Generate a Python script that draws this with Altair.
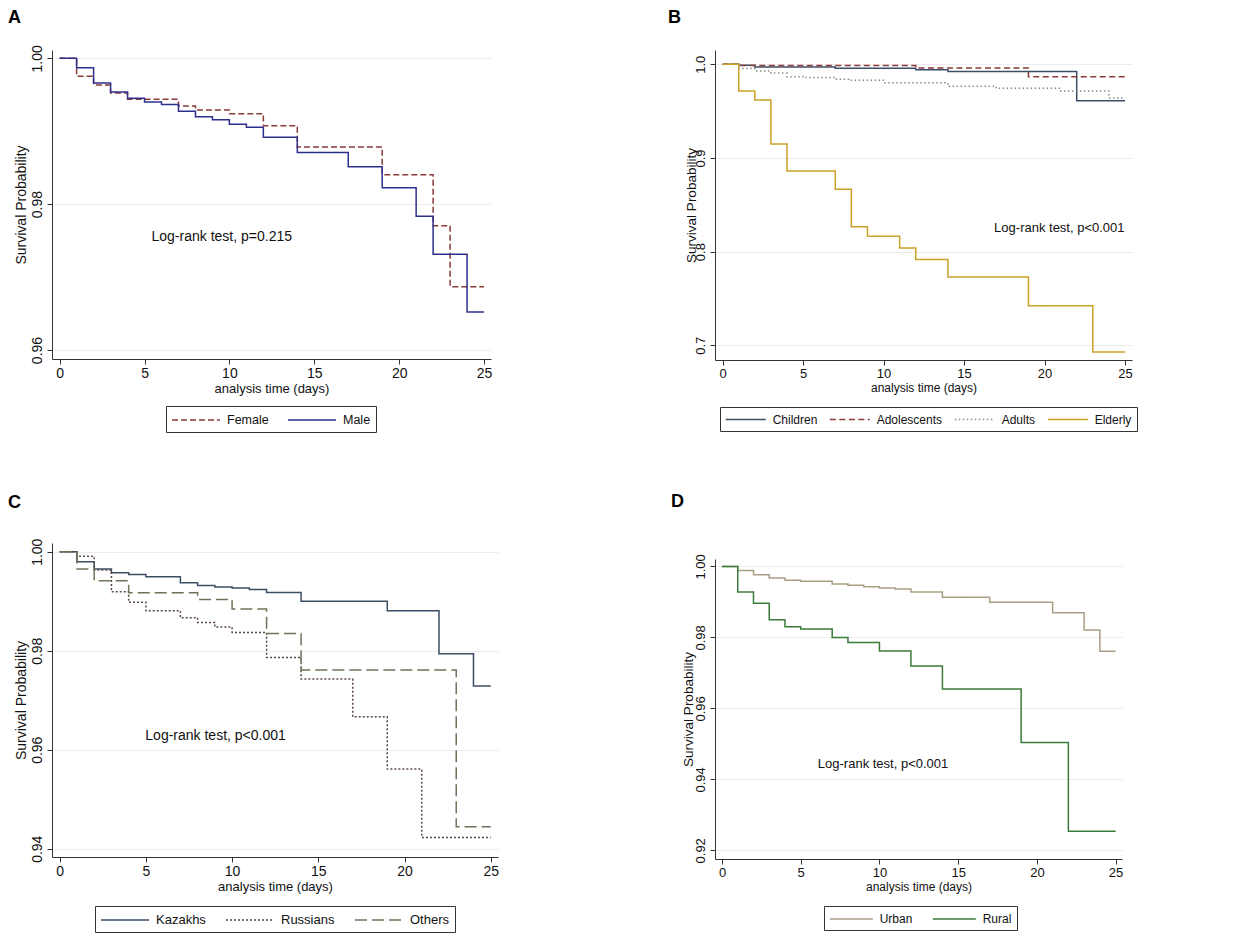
import altair as alt
import pandas as pd

FONT = "Liberation Sans, Arial, sans-serif"
X_END = 25
X_TICKS = [0, 5, 10, 15, 20, 25]

# ---------------- Panel A : sex ----------------
a_groups = ["Female", "Male"]
a_female_t = [0, 1, 2, 3, 4, 7, 8, 10, 12, 14, 19, 22, 23]
a_female_s = [1.0, 0.99753, 0.99634, 0.99525, 0.99437, 0.99346, 0.99291, 0.99241,
              0.99077, 0.98784, 0.98405, 0.97705, 0.96869]
a_male_t = [0, 1, 2, 3, 4, 5, 6, 7, 8, 9, 10, 11, 12, 14, 17, 19, 21, 22, 24]
a_male_s = [1.0, 0.99872, 0.99662, 0.99538, 0.99451, 0.99401, 0.99365, 0.99273,
            0.99200, 0.99159, 0.99095, 0.99054, 0.98917, 0.98707, 0.98514, 0.98226,
            0.97833, 0.97312, 0.96521]
a_yticks = [0.96, 0.98, 1.00]
a_note = "Log-rank test, p=0.215"
a_note_pos = (9.55, 0.9755)

# ---------------- Panel B : age group ----------------
b_groups = ["Children", "Adolescents", "Adults", "Elderly"]
b_children_t = [0, 1, 2, 7, 12, 14, 22]
b_children_s = [1.0, 0.9989, 0.9972, 0.9957, 0.9943, 0.9922, 0.9612]
b_adolescents_t = [0, 1, 12, 19]
b_adolescents_s = [1.0, 0.9986, 0.9961, 0.9868]
b_adults_t = [0, 1, 2, 3, 4, 5, 7, 8, 10, 14, 17, 21, 24]
b_adults_s = [1.0, 0.9954, 0.9929, 0.9907, 0.9868, 0.9858, 0.9840, 0.9829, 0.9804,
              0.9765, 0.9744, 0.9715, 0.9641]
b_elderly_t = [0, 1, 2, 3, 4, 7, 8, 9, 11, 12, 14, 19, 23]
b_elderly_s = [1.0, 0.9715, 0.9619, 0.9149, 0.8861, 0.8665, 0.8267, 0.8164, 0.8039,
               0.7915, 0.7730, 0.7423, 0.6929]
b_yticks = [0.7, 0.8, 0.9, 1.0]
b_note = "Log-rank test, p<0.001"
b_note_pos = (20.92, 0.8251)

# ---------------- Panel C : ethnicity ----------------
c_groups = ["Kazakhs", "Russians", "Others"]
c_kazakhs_t = [0, 1, 2, 3, 4, 5, 7, 8, 9, 10, 11, 12, 14, 19, 22, 24]
c_kazakhs_s = [1.0, 0.99798, 0.99650, 0.99576, 0.99542, 0.99495, 0.99374, 0.99320,
               0.99286, 0.99266, 0.99239, 0.99178, 0.98997, 0.98808, 0.97940, 0.97286]
c_russians_t = [0, 1, 2, 3, 4, 5, 7, 8, 9, 10, 12, 14, 17, 19, 21]
c_russians_s = [1.0, 0.99906, 0.99630, 0.99192, 0.98977, 0.98808, 0.98667, 0.98572,
                0.98478, 0.98370, 0.97865, 0.97428, 0.96667, 0.95610, 0.94229]
c_others_t = [0, 1, 2, 4, 8, 10, 12, 14, 23]
c_others_s = [1.0, 0.99650, 0.99414, 0.99172, 0.99037, 0.98842, 0.98350, 0.97609, 0.94444]
c_yticks = [0.94, 0.96, 0.98, 1.00]
c_note = "Log-rank test, p<0.001"
c_note_pos = (9.04, 0.96287)

# ---------------- Panel D : residence ----------------
d_groups = ["Urban", "Rural"]
d_urban_t = [0, 1, 2, 3, 4, 5, 7, 8, 9, 10, 11, 12, 14, 17, 21, 23, 24]
d_urban_s = [1.0, 0.99887, 0.99766, 0.99672, 0.99606, 0.99578, 0.99503, 0.99465,
             0.99428, 0.99390, 0.99362, 0.99278, 0.99128, 0.98987, 0.98696, 0.98209, 0.97608]
d_rural_t = [0, 1, 2, 3, 4, 5, 7, 8, 10, 12, 14, 19, 22]
d_rural_s = [1.0, 0.99278, 0.98959, 0.98499, 0.98302, 0.98237, 0.97993, 0.97852,
             0.97617, 0.97195, 0.96548, 0.95038, 0.92535]
d_yticks = [0.92, 0.94, 0.96, 0.98, 1.00]
d_note = "Log-rank test, p<0.001"
d_note_pos = (10.23, 0.94428)

LEGEND_LINE = "M-3,0H3"


def build_df(groups, times, survs):
    rows = []
    for name, t, s in zip(groups, times, survs):
        for ti, si in zip(list(t) + [X_END], list(s) + [s[-1]]):
            rows.append({"time": ti, "surv": si, "group": name})
    return pd.DataFrame(rows)


def panel(letter, groups, times, survs, colors, dashes, xdom, ydom, yticks, yfmt,
          w, h, note, note_pos, legend_xy, title_dx, title_offset, ytitle_pad,
          col_pad, sym_len, leg_font, note_font, tick_font, xt_font, yt_font):
    df = build_df(groups, times, survs)
    s = sym_len / 3.0
    leg = alt.Legend(
        title=None, orient="none", legendX=legend_xy[0], legendY=legend_xy[1],
        direction="horizontal", columns=len(groups), gridAlign="none",
        symbolType=LEGEND_LINE, symbolSize=s * s, symbolOffset=s,
        symbolStrokeWidth=1.5, labelFontSize=leg_font, labelFont=FONT,
        labelColor="#111", strokeColor="#333", padding=5,
        columnPadding=col_pad, labelOffset=s + 6, rowPadding=0,
    )
    x = alt.X("time:Q",
              scale=alt.Scale(domain=xdom, nice=False, zero=False),
              axis=alt.Axis(values=X_TICKS, title="analysis time (days)",
                            grid=False, format="d", titleFontSize=xt_font,
                            labelFontSize=tick_font, titlePadding=2))
    y = alt.Y("surv:Q",
              scale=alt.Scale(domain=ydom, nice=False, zero=False),
              axis=alt.Axis(values=yticks, format=yfmt,
                            title="Survival Probability", grid=True,
                            gridColor="#ececec", labelAngle=270,
                            labelAlign="center", labelBaseline="bottom",
                            titleFontSize=yt_font, labelFontSize=tick_font,
                            titlePadding=ytitle_pad, labelPadding=3))
    lines = alt.Chart(df).mark_line(interpolate="step-after", strokeWidth=1.5).encode(
        x=x, y=y,
        color=alt.Color("group:N", scale=alt.Scale(domain=groups, range=colors),
                        legend=leg),
        strokeDash=alt.StrokeDash("group:N",
                                  scale=alt.Scale(domain=groups, range=dashes),
                                  legend=leg),
        detail="group:N",
    )
    note_df = pd.DataFrame([{"time": note_pos[0], "surv": note_pos[1], "label": note}])
    text = alt.Chart(note_df).mark_text(
        fontSize=note_font, font=FONT, color="#111", align="center", baseline="middle"
    ).encode(x="time:Q", y="surv:Q", text="label:N")
    return alt.layer(lines, text).properties(
        width=w, height=h,
        title=alt.TitleParams(letter, anchor="start", frame="group", dx=title_dx,
                              offset=title_offset, fontSize=18, fontWeight="bold",
                              font=FONT, color="#000", baseline="alphabetic"),
    )


SOLID = [1, 0]
A = panel("A", a_groups, [a_female_t, a_male_t], [a_female_s, a_male_s],
          ["#8c3a3a", "#2d2f8c"], [[6, 3], SOLID],
          [-0.45, 25.41], [0.95877, 1.00114], a_yticks, ".2f",
          439, 309, a_note, a_note_pos, (114, 356), -44, 4, 2,
          16, 48, 12.5, 14, 14, 13, 14)

B = panel("B", b_groups,
          [b_children_t, b_adolescents_t, b_adults_t, b_elderly_t],
          [b_children_s, b_adolescents_s, b_adults_s, b_elderly_s],
          ["#3b4e68", "#8c3a3a", "#8a8a8a", "#c9a227"],
          [SOLID, [6, 3.5], [1.5, 2.5], SOLID],
          [-0.473, 25.435], [0.68432, 1.01525], b_yticks, ".1f",
          417, 310, b_note, b_note_pos, (5, 357), -47, 9, -4,
          8, 40, 12, 13, 13, 12, 13.5)

C = panel("C", c_groups, [c_kazakhs_t, c_russians_t, c_others_t],
          [c_kazakhs_s, c_russians_s, c_others_s],
          ["#3a4d63", "#5c4846", "#6f7358"],
          [SOLID, [2, 2], [12, 5]],
          [-0.447, 25.423], [0.93833, 1.00176], c_yticks, ".2f",
          446, 314, c_note, c_note_pos, (43, 363), -44, 12, 2,
          17, 48, 13, 14, 14, 13, 14)

D = panel("D", d_groups, [d_urban_t, d_rural_t], [d_urban_s, d_rural_s],
          ["#a99e84", "#3a7a3a"], [SOLID, SOLID],
          [-0.444, 25.406], [0.91755, 1.00208], d_yticks, ".2f",
          407, 300, d_note, d_note_pos, (109, 347), -44, 29, -1,
          16, 43, 12, 13, 13, 12, 13.5)


def indep(c):
    return c.resolve_scale(color="independent", strokeDash="independent").resolve_legend(
        color="independent", strokeDash="independent")


col1 = indep(alt.vconcat(A, C, spacing=61))
col2 = indep(alt.vconcat(B, D, spacing=60))

chart = indep(alt.hconcat(col1, col2, spacing=169)).properties(
    padding={"left": 0, "top": 0, "right": 5, "bottom": 0},
    background="white",
).configure_view(stroke=None).configure_axis(
    labelFont=FONT, titleFont=FONT, labelColor="#111",
    titleColor="#111", titleFontWeight="normal", domainColor="#333",
    tickColor="#333", tickSize=5, domainWidth=1, tickWidth=1,
).configure_legend(labelFont=FONT)

chart.save("out.html", embed_options={"renderer": "svg", "actions": False})
